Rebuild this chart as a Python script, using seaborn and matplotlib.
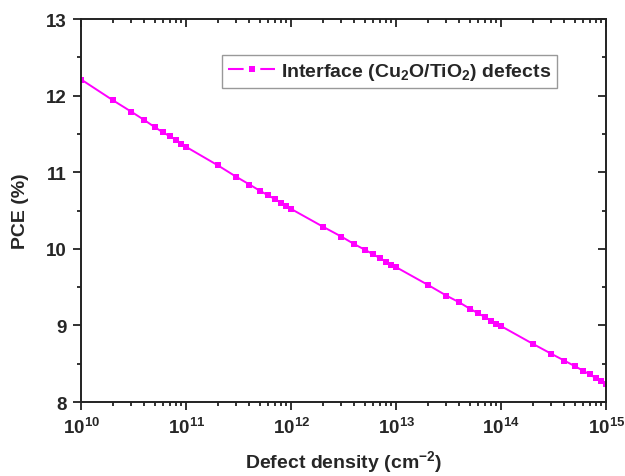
import numpy as np
import pandas as pd
import seaborn as sns
import matplotlib.pyplot as plt
from matplotlib.lines import Line2D
from matplotlib.ticker import LogLocator, MultipleLocator, FixedLocator

# defect density (cm^-2): 1..9 x 10^n
mantissa = [1, 2, 3, 4, 5, 6, 7, 8, 9]
decades = [10, 11, 12, 13, 14]
density = [m * 10.0 ** d for d in decades for m in mantissa] + [1e15]

# PCE (%)
pce = [12.21, 11.94, 11.79, 11.68, 11.59, 11.52, 11.47, 11.42, 11.37,
       11.33, 11.09, 10.94, 10.84, 10.76, 10.70, 10.65, 10.60, 10.56,
       10.52, 10.29, 10.16, 10.06, 9.99, 9.93, 9.88, 9.83, 9.79,
       9.76, 9.53, 9.39, 9.30, 9.22, 9.16, 9.11, 9.06, 9.02,
       8.99, 8.76, 8.63, 8.54, 8.47, 8.41, 8.36, 8.31, 8.28,
       8.24]

series_label = r"Interface (Cu$_2$O/TiO$_2$) defects"
line_color = "#FF00FF"

df = pd.DataFrame({"density": density, "pce": pce})

sns.set_theme(style="ticks")
plt.rcParams["font.family"] = ["Liberation Sans", "DejaVu Sans"]
plt.rcParams["font.weight"] = "bold"
plt.rcParams["mathtext.fontset"] = "custom"
plt.rcParams["mathtext.rm"] = "Liberation Sans:bold"
plt.rcParams["mathtext.it"] = "Liberation Sans:bold"
plt.rcParams["mathtext.bf"] = "Liberation Sans:bold"

fig = plt.figure(figsize=(6.25, 4.77), dpi=100)
ax = fig.add_axes([0.130, 0.155, 0.840, 0.803])

sns.lineplot(data=df, x="density", y="pce", ax=ax, color=line_color,
             linewidth=1.4, marker="s", markersize=4.5, markeredgewidth=0,
             legend=False)

ax.set_xscale("log")
ax.set_xlim(1e10, 1e15)
ax.set_ylim(8, 13)

ax.xaxis.set_major_locator(FixedLocator([10.0 ** d for d in range(10, 16)]))
ax.xaxis.set_minor_locator(LogLocator(base=10, subs=np.arange(2, 10), numticks=20))
ax.set_xticklabels([rf"$10^{{{d}}}$" for d in range(10, 16)])
ax.yaxis.set_major_locator(MultipleLocator(1))
ax.yaxis.set_minor_locator(MultipleLocator(0.5))

ax.tick_params(axis="both", which="both", labelsize=13.5, width=1.3, color="#222222")
ax.tick_params(axis="both", which="major", length=5.5, pad=5)
ax.tick_params(axis="both", which="minor", length=3)
ax.tick_params(axis="x", which="both", top=True, direction="out")
ax.tick_params(axis="y", which="both", right=True, direction="out")
# top and right ticks point inward
for t in ax.xaxis.get_major_ticks() + ax.xaxis.get_minor_ticks():
    t.tick2line.set_marker(3)
for t in ax.yaxis.get_major_ticks() + ax.yaxis.get_minor_ticks():
    t.tick2line.set_marker(0)

for s in ax.spines.values():
    s.set_linewidth(1.4)
    s.set_color("#222222")

ax.set_xlabel(r"Defect density (cm$^{-2}$)", fontsize=14, fontweight="bold", labelpad=8)
ax.set_ylabel("PCE (%)", fontsize=14, fontweight="bold", labelpad=12)

handle = Line2D([], [], color=line_color, linewidth=1.5, linestyle=(0, (7.5, 8)),
                marker="s", markersize=4.5, markeredgewidth=0)
leg = ax.legend([handle], [series_label], loc="upper right",
                bbox_to_anchor=(0.907, 0.906), borderaxespad=0,
                fontsize=14, handlelength=2.45, handletextpad=0.3,
                numpoints=1, fancybox=False, framealpha=1,
                borderpad=0.3)
leg.get_frame().set_edgecolor("#999999")
leg.get_frame().set_linewidth(1.0)

fig.savefig("out.png", dpi=100)
